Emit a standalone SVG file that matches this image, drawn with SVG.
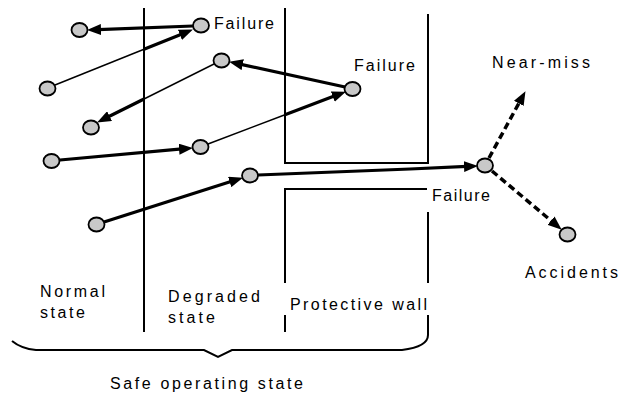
<svg xmlns="http://www.w3.org/2000/svg" width="627" height="394" viewBox="0 0 627 394">
<defs>
<marker id="ah" markerUnits="userSpaceOnUse" viewBox="0 0 14 11" markerWidth="14" markerHeight="11" refX="3" refY="5.5" orient="auto">
<path d="M0,0 L14,5.5 L0,11 z" fill="#000"/>
</marker>
</defs>
<style>
.wall{fill:none;stroke:#000;stroke-width:2}
.thin{fill:none;stroke:#000;stroke-width:1.5}
.thick{fill:none;stroke:#000;stroke-width:3.2}
.dash{fill:none;stroke:#000;stroke-width:3.5;stroke-dasharray:7 4}
.node{fill:#c8c8c8;stroke:#000;stroke-width:1.8}
text{font-family:"Liberation Sans",Arial,sans-serif;font-size:16px;fill:#000}
</style>
<rect width="627" height="394" fill="#fff"/>
<g id="walls">
<path class="wall" d="M144,8 V332"/>
<path class="wall" d="M285,8 V163 H428 V14"/>
<path class="wall" d="M285,332 V315 M285,283 V189 H427"/>
<path class="wall" d="M428,212 V283 M428,315 V335"/>
<path class="wall" d="M12,341 C18,346 25,349 36,350 L204,350 L218,357 L232,350 L402,350 C418,348 428,343 428,335"/>
</g>
<g id="connectors">
<path class="thick" d="M193,26 L98,29.6" marker-end="url(#ah)"/>
<path class="thin" d="M55,85 L144,49.2"/>
<path class="thick" d="M144,49.2 L182.7,33.7" marker-end="url(#ah)"/>
<path class="thick" d="M345,87 L239.8,64.1" marker-end="url(#ah)"/>
<path class="thin" d="M214,64 L144,99"/>
<path class="thick" d="M144,99 L106.9,117.5" marker-end="url(#ah)"/>
<path class="thick" d="M60,160 L182,148.9" marker-end="url(#ah)"/>
<path class="thin" d="M208,144 L285,114.8"/>
<path class="thick" d="M285,114.8 L335.6,95.6" marker-end="url(#ah)"/>
<path class="thick" d="M104,222 L232.5,181" marker-end="url(#ah)"/>
<path class="thick" d="M258,175 L410,169 L467,166.4" marker-end="url(#ah)"/>
<path class="dash" d="M489,158 L520.2,100.8" marker-end="url(#ah)"/>
<path class="dash" d="M492,171 L553.3,222.6" marker-end="url(#ah)"/>
</g>
<g id="n1"><ellipse class="node" cx="79.5" cy="30" rx="8" ry="7"/></g>
<g id="n2"><ellipse class="node" cx="201" cy="25.5" rx="8" ry="7"/><text x="214" y="29" textLength="60" lengthAdjust="spacing">Failure</text></g>
<g id="n3"><ellipse class="node" cx="47.5" cy="88.5" rx="8" ry="7"/></g>
<g id="n4"><ellipse class="node" cx="221.5" cy="60.5" rx="8" ry="7"/></g>
<g id="n5"><ellipse class="node" cx="91" cy="127.5" rx="8" ry="7"/></g>
<g id="n6"><ellipse class="node" cx="51.5" cy="161" rx="8" ry="7"/></g>
<g id="n7"><ellipse class="node" cx="200.5" cy="147" rx="8" ry="7"/></g>
<g id="n8"><ellipse class="node" cx="250" cy="175.5" rx="8" ry="7"/></g>
<g id="n9"><ellipse class="node" cx="96.5" cy="224.5" rx="8" ry="7"/></g>
<g id="n10"><ellipse class="node" cx="352.5" cy="89" rx="8" ry="7"/><text x="354" y="71" textLength="61" lengthAdjust="spacing">Failure</text></g>
<g id="n11"><ellipse class="node" cx="485" cy="165.5" rx="8" ry="7"/><text x="432" y="201" textLength="58" lengthAdjust="spacing">Failure</text></g>
<g id="n12"><ellipse class="node" cx="567.5" cy="234.5" rx="8" ry="7"/><text x="525" y="278" textLength="93" lengthAdjust="spacing">Accidents</text></g>
<g id="labels">
<text x="492" y="68" textLength="98" lengthAdjust="spacing">Near-miss</text>
<text x="40" y="297" textLength="65" lengthAdjust="spacing">Normal</text>
<text x="40" y="318" textLength="45" lengthAdjust="spacing">state</text>
<text x="168" y="302" textLength="92" lengthAdjust="spacing">Degraded</text>
<text x="168" y="323" textLength="47" lengthAdjust="spacing">state</text>
<text x="290" y="310" textLength="137" lengthAdjust="spacing">Protective wall</text>
<text x="110" y="389" textLength="193" lengthAdjust="spacing">Safe operating state</text>
</g>
</svg>
